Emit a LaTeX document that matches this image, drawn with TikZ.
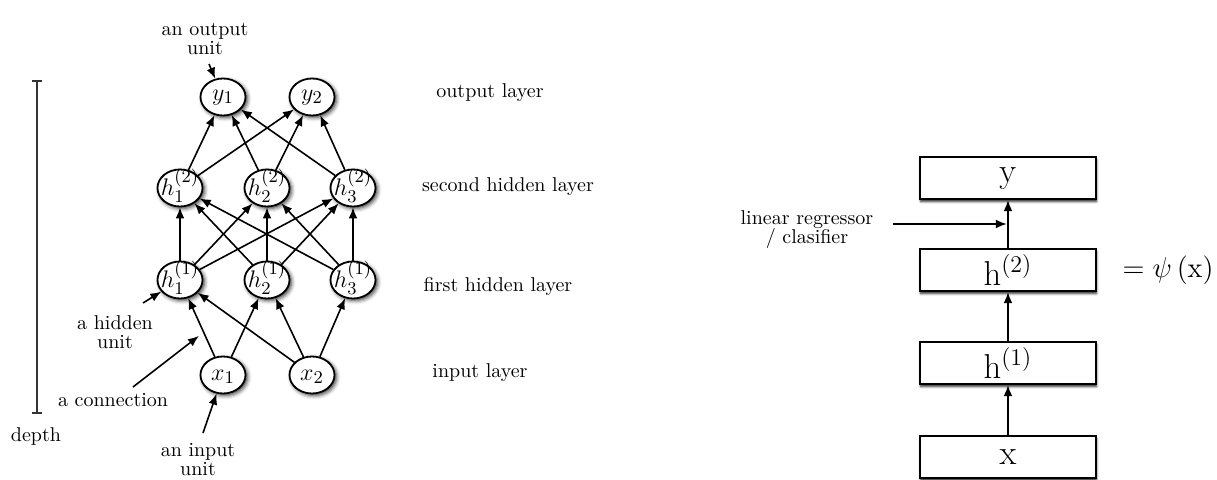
\documentclass[tikz,border=0pt]{standalone}
\usetikzlibrary{arrows.meta,shapes.geometric,shadows.blur,calc}
\newcommand\unitlbl[2]{\makebox[0pt]{\raisebox{#1}[0pt][0pt]{$#2$}}}
\begin{document}
\begin{tikzpicture}[x=0.5pt,y=-0.5pt,
  unit/.style={ellipse, draw=black, line width=0.9pt, fill=white,
    minimum width=22.5pt, minimum height=18.5pt, inner sep=0pt,
    text height=0pt, text depth=0pt, font=\fontsize{12.5}{14}\selectfont,
    blur shadow={shadow xshift=1pt, shadow yshift=-1pt, shadow blur radius=2pt, shadow opacity=80}},
  lbox/.style={rectangle, draw=black, line width=1.1pt, fill=white,
    minimum width=88pt, minimum height=21pt, inner sep=0pt,
    font=\fontsize{17}{20}\selectfont,
    blur shadow={shadow xshift=0.3pt, shadow yshift=-1.3pt, shadow blur radius=1.1pt, shadow opacity=85}},
  conn/.style={-{Latex[length=5.5pt,width=4.4pt]}, line width=0.8pt, black},
  txt/.style={font=\normalsize, inner sep=0pt, align=center},
]
\useasboundingbox (0,0) rectangle (1217,480);

% ---------- left network ----------
\node[unit] (y1) at (223,97) {\unitlbl{-1.6pt}{y_1}};
\node[unit] (y2) at (312,97) {\unitlbl{-1.6pt}{y_2}};
\node[unit] (h12) at (180,188) {\unitlbl{-3.8pt}{h^{(2)}_1}};
\node[unit] (h22) at (267,188) {\unitlbl{-3.8pt}{h^{(2)}_2}};
\node[unit] (h32) at (353,188) {\unitlbl{-3.8pt}{h^{(2)}_3}};
\node[unit] (h11) at (180,280) {\unitlbl{-3.8pt}{h^{(1)}_1}};
\node[unit] (h21) at (267,280) {\unitlbl{-3.8pt}{h^{(1)}_2}};
\node[unit] (h31) at (353,280) {\unitlbl{-3.8pt}{h^{(1)}_3}};
\node[unit] (x1) at (223,375) {\unitlbl{-2.7pt}{x_1}};
\node[unit] (x2) at (312,375) {\unitlbl{-2.7pt}{x_2}};

\foreach \s in {h12,h22,h32}{
  \foreach \t in {y1,y2}{ \draw[conn] (\s) -- (\t); }
}
\foreach \s in {h11,h21,h31}{
  \foreach \t in {h12,h22,h32}{ \draw[conn] (\s) -- (\t); }
}
\draw[conn] (x1) -- (h11);
\draw[conn] (x1) -- (h21);
\draw[conn] (x2) -- (h11);
\draw[conn] (x2) -- (h21);
\draw[conn] (x2) -- (h31);

% annotations
\node[txt] (tout) at (205,39) {an output\\[-2.5pt]unit};
\coordinate (cout) at (209,64);
\draw[conn] (cout) -- (y1);

\node[txt] (thid) at (115,332) {a hidden\\[-2.5pt]unit};
\coordinate (chid) at (143,303);
\draw[conn] (chid) -- (h11);

\node[txt] (tcon) at (113,400) {a connection};
\coordinate (ccon0) at (133,387);
\coordinate (ccon1) at ($(x1)!0.45!(h11)$);
\draw[conn, shorten >=3pt] (ccon0) -- (ccon1);

\node[txt] (tinp) at (198,460) {an input\\[-2.5pt]unit};
\coordinate (cinp) at (203,433);
\draw[conn] (cinp) -- (x1);

% depth bar
\draw[line width=0.8pt, black!80] (37,81) -- (37,413);
\draw[line width=0.8pt, black!80] (32,81) -- (42,81);
\draw[line width=0.8pt, black!80] (32,413) -- (42,413);
\node[txt] (tdepth) at (36,437) {depth};

% layer labels
\node[txt] (lout) at (490,93) {output layer};
\node[txt] (lsec) at (508,187) {second hidden layer};
\node[txt] (lfir) at (498,287) {first hidden layer};
\node[txt] (linp) at (480,373) {input layer};

% ---------- right stack ----------
\node[lbox] (by) at (1008,178) {$\mathrm{y}$};
\node[lbox] (bh2) at (1008,270) {$\mathrm{h}^{(2)}$};
\node[lbox] (bh1) at (1008,363) {$\mathrm{h}^{(1)}$};
\node[lbox] (bx) at (1008,457) {$\mathrm{x}$};

\draw[conn] (bx) -- (bh1);
\draw[conn] (bh1) -- (bh2);
\draw[conn] (bh2) -- (by);

\node[txt] (tlin) at (807,230) {linear regressor\\[-2.5pt]/ clasifier};
\coordinate (clin0) at (893,224);
\coordinate (clin1) at ($(bh2.north)!0.5!(by.south)$);
\draw[conn, shorten >=0.6pt] (clin0) -- (clin1);

\node[inner sep=0pt, anchor=east, font=\fontsize{14}{17}\selectfont] (tpsi) at (1214,270) {$=\psi\,(\mathrm{x})$};
\end{tikzpicture}
\end{document}
